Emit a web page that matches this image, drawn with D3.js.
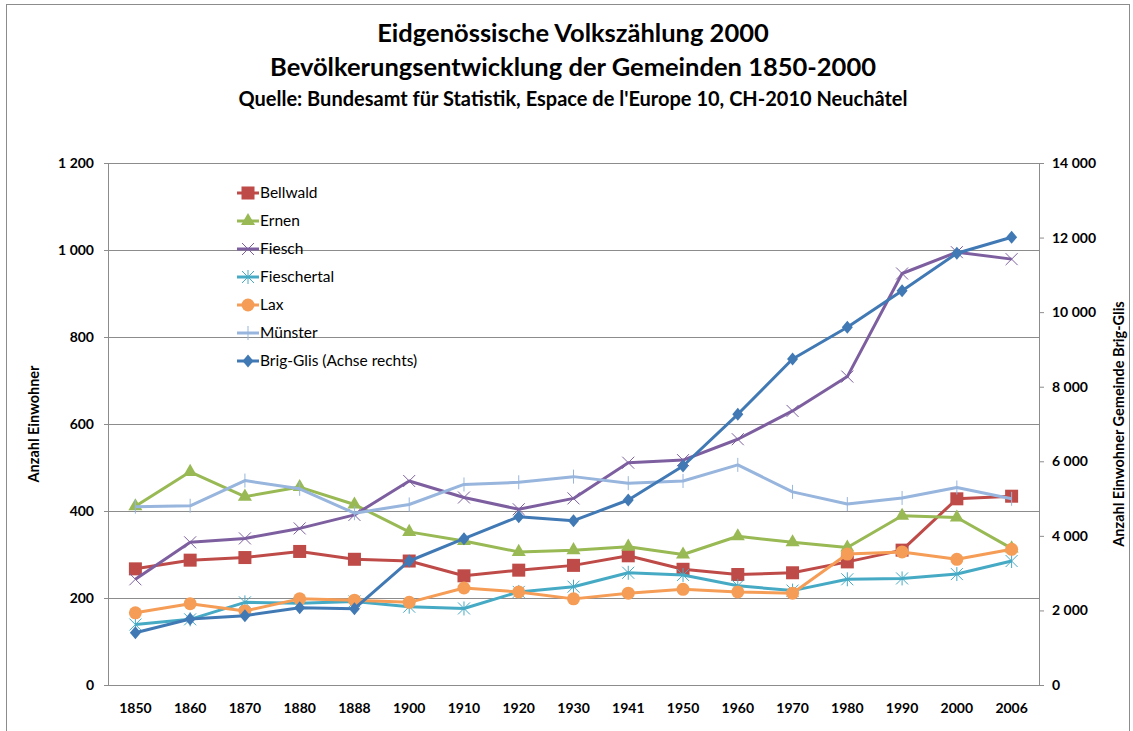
<!DOCTYPE html>
<html>
<head>
<meta charset="utf-8">
<script src="https://cdn.jsdelivr.net/npm/d3@7"></script>
<style>
  body { margin: 0; background: #fff; }
  text { font-family: Lato, "Open Sans", sans-serif; fill: #000; }
</style>
</head>
<body>
<svg id="chart" width="1133" height="731"></svg>
<script>
// Categories (census years)
var years = ["1850", "1860", "1870", "1880", "1888", "1900", "1910", "1920", "1930", "1941", "1950", "1960", "1970", "1980", "1990", "2000", "2006"];

// Population per municipality (left axis)
var bellwald   = [267, 287, 293, 307, 289, 285, 251, 264, 275, 297, 266, 254, 258, 283, 310, 428, 434];
var ernen      = [411, 490, 433, 455, 415, 352, 331, 306, 310, 318, 300, 342, 328, 316, 389, 385, 314];
var fiesch     = [243, 328, 337, 360, 391, 469, 431, 404, 429, 511, 517, 565, 630, 709, 946, 995, 979];
var fieschertal = [139, 151, 190, 188, 192, 180, 176, 214, 226, 258, 253, 228, 217, 243, 245, 255, 285];
var lax        = [166, 187, 170, 198, 195, 190, 223, 214, 198, 211, 220, 214, 211, 301, 306, 289, 312];
var muenster   = [410, 412, 470, 451, 395, 415, 461, 466, 479, 464, 469, 506, 444, 416, 430, 454, 428];

// Brig-Glis (right axis)
var brigGlis   = [1403, 1770, 1859, 2074, 2047, 3326, 3924, 4514, 4407, 4962, 5874, 7260, 8743, 9593, 10575, 11578, 12007];

// Tick values
var leftTicks = [0, 200, 400, 600, 800, 1000, 1200];
var rightTicks = [0, 2000, 4000, 6000, 8000, 10000, 12000, 14000];

var series = [
  { name: "Bellwald", values: bellwald, color: "#be4b48", symbol: "square", axis: "left" },
  { name: "Ernen", values: ernen, color: "#98b954", symbol: "triangle", axis: "left" },
  { name: "Fiesch", values: fiesch, color: "#7d5fa0", symbol: "x", axis: "left" },
  { name: "Fieschertal", values: fieschertal, color: "#46aac5", symbol: "star", axis: "left" },
  { name: "Lax", values: lax, color: "#f59d56", symbol: "circle", axis: "left" },
  { name: "Münster", values: muenster, color: "#97b5dd", symbol: "plus", axis: "left" },
  { name: "Brig-Glis (Achse rechts)", values: brigGlis, color: "#4179b5", symbol: "diamond", axis: "right" }
];

var svg = d3.select("#chart");

// Outer border
svg.append("rect")
  .attr("x", 6.5).attr("y", 4.5)
  .attr("width", 1123).attr("height", 740)
  .attr("fill", "none")
  .attr("stroke", "#8c8c8c");

// Plot area
var margin = { top: 163, left: 108, right: 94, bottom: 46 };
var width = 1133 - margin.left - margin.right;
var height = 731 - margin.top - margin.bottom;

var g = svg.append("g")
  .attr("transform", "translate(" + margin.left + "," + margin.top + ")");

var x = d3.scaleBand().domain(years).range([0, width]);
var yLeft = d3.scaleLinear().domain([0, 1200]).range([height, 0]);
var yRight = d3.scaleLinear().domain([0, 14000]).range([height, 0]);

function xPos(d, i) { return x(years[i]) + x.bandwidth() / 2; }

// thousands with a space: 1 200, 14 000
function fmt(d) { return d3.format(",")(d).replace(",", " "); }

// Gridlines
g.selectAll(".grid")
  .data(leftTicks.filter(function(d) { return d > 0; }))
  .enter().append("line")
  .attr("x1", 0).attr("x2", width)
  .attr("y1", function(d) { return Math.round(yLeft(d)) + 0.5; })
  .attr("y2", function(d) { return Math.round(yLeft(d)) + 0.5; })
  .attr("stroke", "#8c8c8c");

// Axis frame lines
g.append("line").attr("x1", 0.5).attr("x2", 0.5).attr("y1", 0).attr("y2", height).attr("stroke", "#8c8c8c");
g.append("line").attr("x1", width + 0.5).attr("x2", width + 0.5).attr("y1", 0).attr("y2", height).attr("stroke", "#8c8c8c");
g.append("line").attr("x1", 0).attr("x2", width).attr("y1", height + 0.5).attr("y2", height + 0.5).attr("stroke", "#8c8c8c");

// Left axis
var leftAxis = d3.axisLeft(yLeft)
  .tickValues(leftTicks)
  .tickSize(4)
  .tickPadding(10)
  .tickFormat(fmt);
var la = g.append("g").call(leftAxis);
la.select(".domain").remove();
la.selectAll(".tick line").attr("stroke", "#8c8c8c");
la.selectAll("text").attr("font-size", 14).attr("font-weight", "bold").style("font-family", "Lato, sans-serif");

// Right axis
var rightAxis = d3.axisRight(yRight)
  .tickValues(rightTicks)
  .tickSize(5)
  .tickPadding(8)
  .tickFormat(fmt);
var ra = g.append("g").attr("transform", "translate(" + width + ",0)").call(rightAxis);
ra.select(".domain").remove();
ra.selectAll(".tick line").attr("stroke", "#8c8c8c");
ra.selectAll("text").attr("font-size", 14).attr("font-weight", "bold").style("font-family", "Lato, sans-serif");

// X axis
var xAxis = d3.axisBottom(x).tickSize(0).tickPadding(18);
var xa = g.append("g").attr("transform", "translate(0," + height + ")").call(xAxis);
xa.select(".domain").remove();
xa.selectAll("text").attr("font-size", 14).attr("font-weight", "bold").style("font-family", "Lato, sans-serif");

// Marker drawing
function drawMarker(sel, symbol, color) {
  if (symbol === "square") {
    sel.append("rect").attr("x", -6.5).attr("y", -6.5).attr("width", 13).attr("height", 13).attr("fill", color);
  } else if (symbol === "triangle") {
    sel.append("path").attr("d", d3.symbol().type(d3.symbolTriangle).size(85)).attr("fill", color);
  } else if (symbol === "circle") {
    sel.append("circle").attr("r", 6.5).attr("fill", color);
  } else if (symbol === "diamond") {
    sel.append("path").attr("d", "M0,-6.5L5.5,0L0,6.5L-5.5,0Z").attr("fill", color);
  } else if (symbol === "x") {
    sel.append("path").attr("d", "M-6,-6L6,6M-6,6L6,-6").attr("stroke", color).attr("stroke-width", 1).attr("fill", "none");
  } else if (symbol === "star") {
    sel.append("path").attr("d", "M-6,-6L6,6M-6,6L6,-6M0,-7L0,7").attr("stroke", color).attr("stroke-width", 1).attr("fill", "none");
  } else if (symbol === "plus") {
    sel.append("path").attr("d", "M0,-7L0,7").attr("stroke", color).attr("stroke-width", 1).attr("fill", "none");
  }
}

// Lines and markers
series.forEach(function(s) {
  var yScale = s.axis === "right" ? yRight : yLeft;
  var line = d3.line()
    .x(function(d, i) { return xPos(d, i); })
    .y(function(d) { return yScale(d); });

  g.append("path")
    .datum(s.values)
    .attr("d", line)
    .attr("fill", "none")
    .attr("stroke", s.color)
    .attr("stroke-width", 3)
    .attr("stroke-linejoin", "round");

  g.selectAll(null)
    .data(s.values)
    .enter().append("g")
    .attr("transform", function(d, i) { return "translate(" + xPos(d, i) + "," + yScale(d) + ")"; })
    .each(function() { drawMarker(d3.select(this), s.symbol, s.color); });
});

// Legend
var legend = svg.append("g").attr("transform", "translate(237,193)");
series.forEach(function(s, i) {
  var row = legend.append("g").attr("transform", "translate(0," + (i * 28) + ")");
  row.append("line").attr("x1", 0).attr("x2", 22).attr("y1", 0).attr("y2", 0)
    .attr("stroke", s.color).attr("stroke-width", 3);
  drawMarker(row.append("g").attr("transform", "translate(11,0)"), s.symbol, s.color);
  row.append("text").attr("x", 23).attr("y", 5)
    .attr("font-size", 15.5)
    .text(s.name);
});

// Axis titles
svg.append("text")
  .attr("transform", "translate(39,424) rotate(-90)")
  .attr("text-anchor", "middle")
  .attr("font-size", 14.5).attr("font-weight", "bold")
  .text("Anzahl Einwohner");

svg.append("text")
  .attr("transform", "translate(1124,424) rotate(-90)")
  .attr("text-anchor", "middle")
  .attr("font-size", 14.5).attr("font-weight", "bold")
  .text("Anzahl Einwohner Gemeinde Brig-Glis");

// Titles
svg.append("text").attr("x", 573).attr("y", 42).attr("text-anchor", "middle")
  .attr("font-size", 25.5).attr("font-weight", "bold")
  .text("Eidgenössische Volkszählung 2000");
svg.append("text").attr("x", 573).attr("y", 76).attr("text-anchor", "middle")
  .attr("font-size", 25.5).attr("font-weight", "bold")
  .text("Bevölkerungsentwicklung der Gemeinden 1850-2000");
svg.append("text").attr("x", 573).attr("y", 106).attr("text-anchor", "middle")
  .attr("font-size", 20).attr("font-weight", "bold")
  .text("Quelle: Bundesamt für Statistik, Espace de l'Europe 10, CH-2010 Neuchâtel");
</script>
</body>
</html>
